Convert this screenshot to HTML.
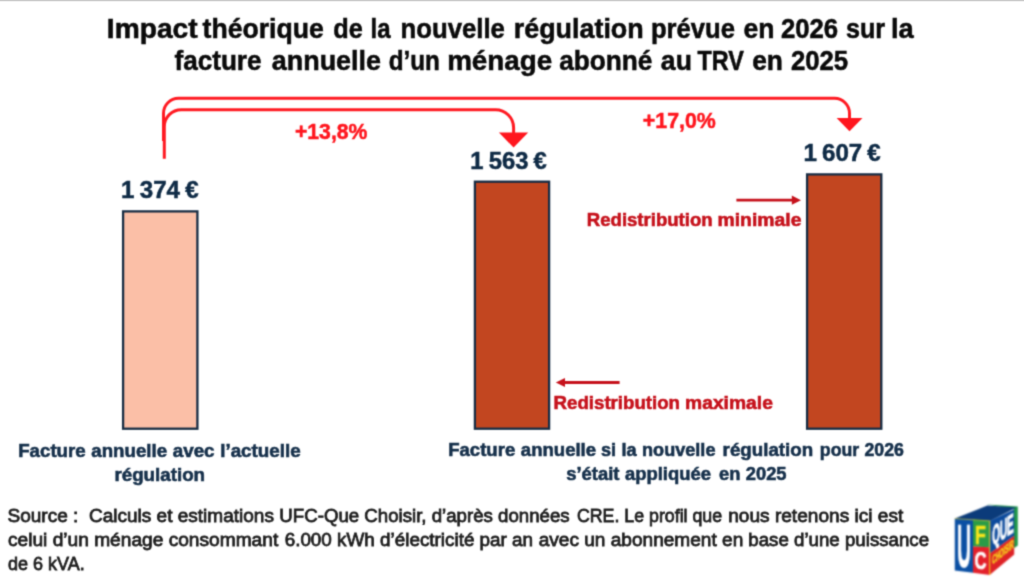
<!DOCTYPE html>
<html lang="fr">
<head>
<meta charset="utf-8">
<title>Impact théorique de la nouvelle régulation</title>
<style>
html,body{margin:0;padding:0;background:#fff;}
body{width:1024px;height:579px;overflow:hidden;position:relative;font-family:"Liberation Sans",sans-serif;}
svg{position:absolute;left:0;top:0;display:block;}
text{font-family:"Liberation Sans",sans-serif;}
.b{font-weight:700;}
.title{font-size:27.5px;fill:#0a0a0a;stroke:#0a0a0a;stroke-width:0.55px;word-spacing:-0.3px;}
.val{font-size:23.4px;fill:#0f2b46;stroke:#0f2b46;stroke-width:0.5px;word-spacing:-1.5px;}
.pct{font-size:21.4px;fill:#ff161e;stroke:#ff161e;stroke-width:0.5px;}
.red{font-size:18.9px;fill:#c6121c;stroke:#c6121c;stroke-width:0.6px;}
.lab{font-size:18.4px;fill:#16304b;stroke:#16304b;stroke-width:0.6px;word-spacing:0.4px;}
.src{font-size:18.8px;fill:#1e1e1e;stroke:#1e1e1e;stroke-width:0.8px;}
</style>
</head>
<body>
<svg width="1024" height="579" viewBox="0 0 1024 579">
  <defs><filter id="px" x="-10" y="-10" width="1044" height="599" filterUnits="userSpaceOnUse" color-interpolation-filters="sRGB"><feConvolveMatrix order="3" kernelMatrix="0.0324 0.1152 0.0324 0.1152 0.4096 0.1152 0.0324 0.1152 0.0324" divisor="1" edgeMode="duplicate" preserveAlpha="true"/></filter></defs>
  <g filter="url(#px)">
  <rect class="bg" x="-20" y="-20" width="1064" height="619" fill="#ffffff"/>

  <!-- arrows -->
  <g fill="none" stroke="#ff1a22" stroke-width="3" stroke-linecap="butt">
    <path d="M163.5 141 V113.3 A15 15 0 0 1 178.5 98.3 H834.5 A15 15 0 0 1 849.5 113.3 V120"/>
    <path d="M164.3 158.8 V126.7 A17 17 0 0 1 181.3 109.7 H495.6 A18 18 0 0 1 513.6 127.7 V134"/>
  </g>
  <polygon points="836.6,118 862.5,118 849.5,131.2" fill="#ff161e"/>
  <polygon points="498.9,132.4 528.2,132.4 513.6,147.6" fill="#ff161e"/>


  <!-- bars -->
  <rect x="123.1" y="211.4" width="74.3" height="217.3" fill="#fbbfa7" stroke="#182d44" stroke-width="2.3"/>
  <rect x="474.9" y="181.7" width="74.2" height="247" fill="#c24620" stroke="#182d44" stroke-width="2.3"/>
  <rect x="807.1" y="174.4" width="74.2" height="254.3" fill="#c24620" stroke="#182d44" stroke-width="2.3"/>


  <!-- redistribution labels -->
  <g stroke="#c6121c" stroke-width="2.8" fill="#c6121c">
    <line x1="736.4" y1="200.2" x2="794" y2="200.2"/>
    <polygon points="791.8,195.6 801,200.2 791.8,204.8" stroke="none"/>
    <line x1="619.6" y1="382.5" x2="563" y2="382.5"/>
    <polygon points="565,377.9 555.8,382.5 565,387.1" stroke="none"/>
  </g>

  <!-- texts: title, percentages, values, labels, source -->
  <text class="b title" y="37.6" xml:space="preserve"><tspan id="t1_0" x="106.86" textLength="98.23" lengthAdjust="spacingAndGlyphs">Impact </tspan><tspan id="t1_1" x="202.54" textLength="128.32" lengthAdjust="spacingAndGlyphs">théorique </tspan><tspan id="t1_2" x="333.22" textLength="36.23" lengthAdjust="spacingAndGlyphs">de </tspan><tspan id="t1_3" x="370.62" textLength="26.39" lengthAdjust="spacingAndGlyphs">la </tspan><tspan id="t1_4" x="400.59" textLength="111.19" lengthAdjust="spacingAndGlyphs">nouvelle </tspan><tspan id="t1_5" x="513.75" textLength="137.12" lengthAdjust="spacingAndGlyphs">régulation </tspan><tspan id="t1_6" x="650.95" textLength="90.84" lengthAdjust="spacingAndGlyphs">prévue </tspan><tspan id="t1_7" x="743.56" textLength="38.02" lengthAdjust="spacingAndGlyphs">en </tspan><tspan id="t1_8" x="780.90" textLength="64.12" lengthAdjust="spacingAndGlyphs">2026 </tspan><tspan id="t1_9" x="845.88" textLength="45.90" lengthAdjust="spacingAndGlyphs">sur </tspan><tspan id="t1_10" x="891.06" textLength="22.75" lengthAdjust="spacingAndGlyphs">la</tspan></text>
  <text class="b title" y="70.2" xml:space="preserve"><tspan id="t2_0" x="174.47" textLength="94.06" lengthAdjust="spacingAndGlyphs">facture </tspan><tspan id="t2_1" x="271.75" textLength="116.48" lengthAdjust="spacingAndGlyphs">annuelle </tspan><tspan id="t2_2" x="388.73" textLength="57.61" lengthAdjust="spacingAndGlyphs">d’un </tspan><tspan id="t2_3" x="447.17" textLength="112.47" lengthAdjust="spacingAndGlyphs">ménage </tspan><tspan id="t2_4" x="559.16" textLength="100.30" lengthAdjust="spacingAndGlyphs">abonné </tspan><tspan id="t2_5" x="660.86" textLength="38.10" lengthAdjust="spacingAndGlyphs">au </tspan><tspan id="t2_6" x="697.39" textLength="52.69" lengthAdjust="spacingAndGlyphs">TRV </tspan><tspan id="t2_7" x="752.17" textLength="37.74" lengthAdjust="spacingAndGlyphs">en </tspan><tspan id="t2_8" x="790.90" textLength="57.29" lengthAdjust="spacingAndGlyphs">2025</tspan></text>
  <text class="b pct" y="139.0" xml:space="preserve"><tspan id="p1_0" x="294.95" textLength="72.47" lengthAdjust="spacingAndGlyphs">+13,8%</tspan></text>
  <text class="b pct" y="128.0" xml:space="preserve"><tspan id="p2_0" x="642.82" textLength="73.00" lengthAdjust="spacingAndGlyphs">+17,0%</tspan></text>
  <text class="b val" y="198.0" xml:space="preserve"><tspan id="v1_0" x="121.14" textLength="77.50" lengthAdjust="spacingAndGlyphs">1 374 €</tspan></text>
  <text class="b val" y="168.6" xml:space="preserve"><tspan id="v2_0" x="470.35" textLength="76.36" lengthAdjust="spacingAndGlyphs">1 563 €</tspan></text>
  <text class="b val" y="160.5" xml:space="preserve"><tspan id="v3_0" x="803.40" textLength="77.40" lengthAdjust="spacingAndGlyphs">1 607 €</tspan></text>
  <text class="b red" y="225.9" xml:space="preserve"><tspan id="r1_0" x="586.82" textLength="130.99" lengthAdjust="spacingAndGlyphs">Redistribution </tspan><tspan id="r1_1" x="717.54" textLength="83.92" lengthAdjust="spacingAndGlyphs">minimale</tspan></text>
  <text class="b red" y="409.0" xml:space="preserve"><tspan id="r2_0" x="553.61" textLength="131.59" lengthAdjust="spacingAndGlyphs">Redistribution </tspan><tspan id="r2_1" x="685.05" textLength="87.81" lengthAdjust="spacingAndGlyphs">maximale</tspan></text>
  <text class="b lab" y="457.3" xml:space="preserve"><tspan id="l1a_0" x="18.20" textLength="154.50" lengthAdjust="spacingAndGlyphs">Facture annuelle </tspan><tspan id="l1a_1" x="172.76" textLength="127.93" lengthAdjust="spacingAndGlyphs">avec l’actuelle</tspan></text>
  <text class="b lab" y="481.1" xml:space="preserve"><tspan id="l1b_0" x="114.41" textLength="90.65" lengthAdjust="spacingAndGlyphs">régulation</tspan></text>
  <text class="b lab" y="456.0" xml:space="preserve"><tspan id="l2a_0" x="448.22" textLength="153.43" lengthAdjust="spacingAndGlyphs">Facture annuelle </tspan><tspan id="l2a_1" x="600.96" textLength="119.95" lengthAdjust="spacingAndGlyphs">si la nouvelle </tspan><tspan id="l2a_2" x="722.62" textLength="96.10" lengthAdjust="spacingAndGlyphs">régulation </tspan><tspan id="l2a_3" x="819.87" textLength="83.98" lengthAdjust="spacingAndGlyphs">pour 2026</tspan></text>
  <text class="b lab" y="480.0" xml:space="preserve"><tspan id="l2b_0" x="566.23" textLength="150.27" lengthAdjust="spacingAndGlyphs">s’était appliquée </tspan><tspan id="l2b_1" x="718.97" textLength="67.59" lengthAdjust="spacingAndGlyphs">en 2025</tspan></text>
  <text class="src" y="521.9" xml:space="preserve"><tspan id="s1_0" x="7.53" textLength="271.71" lengthAdjust="spacingAndGlyphs">Source :  Calculs et estimations </tspan><tspan id="s1_1" x="279.34" textLength="295.53" lengthAdjust="spacingAndGlyphs">UFC-Que Choisir, d’après données </tspan><tspan id="s1_2" x="576.94" textLength="150.15" lengthAdjust="spacingAndGlyphs">CRE. Le profil que </tspan><tspan id="s1_3" x="728.21" textLength="175.08" lengthAdjust="spacingAndGlyphs">nous retenons ici est</tspan></text>
  <text class="src" y="546.0" xml:space="preserve"><tspan id="s2_0" x="7.97" textLength="275.56" lengthAdjust="spacingAndGlyphs">celui d’un ménage consommant </tspan><tspan id="s2_1" x="284.66" textLength="253.67" lengthAdjust="spacingAndGlyphs">6.000 kWh d’électricité par an </tspan><tspan id="s2_2" x="538.66" textLength="209.88" lengthAdjust="spacingAndGlyphs">avec un abonnement en </tspan><tspan id="s2_3" x="748.33" textLength="180.77" lengthAdjust="spacingAndGlyphs">base d’une puissance</tspan></text>
  <text class="src" y="569.7" xml:space="preserve"><tspan id="s3_0" x="8.10" textLength="76.57" lengthAdjust="spacingAndGlyphs">de 6 kVA.</tspan></text>

  <!-- UFC Que Choisir logo -->
  <defs><filter id="soft" x="940" y="495" width="110" height="110" filterUnits="userSpaceOnUse" color-interpolation-filters="sRGB"><feFlood flood-color="#ffffff" result="bg"/><feMerge result="m"><feMergeNode in="bg"/><feMergeNode in="SourceGraphic"/></feMerge><feConvolveMatrix in="m" order="3" kernelMatrix="0.0484 0.1232 0.0484 0.1232 0.3136 0.1232 0.0484 0.1232 0.0484" divisor="1" edgeMode="duplicate" preserveAlpha="true"/></filter></defs>
  <g filter="url(#soft)">
    <polygon points="986.6,504.4 1017.8,506.4 1017.8,545.5 1013.6,548.5 1013.6,509" fill="#1f9648"/>
    <polygon points="954.8,518.5 987.4,505.6 1016.4,507.6 990,521" fill="#0b3b7a"/>
    <polygon points="954.8,518.5 973.2,519.6 973.2,572.8 954.8,570.4" fill="#0a4fa3"/>
    <polygon points="973,519.6 989.8,520.8 989.8,547.2 973,546.4" fill="#2a9b47"/>
    <polygon points="973,546.4 989.8,547.2 989.8,574.9 973,572.8" fill="#e3202a"/>
    <polygon points="989.6,520.9 1014.2,509.6 1014.2,535.7 989.6,553.6" fill="#0c4a9c"/>
    <polygon points="989.6,553.6 1014.2,535.7 1014.2,554.6 989.6,574.9" fill="#de2226"/>
    <line x1="989.7" y1="520.8" x2="989.7" y2="574.9" stroke="#f2d21c" stroke-width="1"/>
    <line x1="954.8" y1="518.6" x2="989.7" y2="520.9" stroke="#d8c62a" stroke-width="0.7"/>
    <text class="b" transform="translate(956.9 566.6) scale(0.75 2.38)" font-size="26" fill="#ffffff" stroke="#ffffff" stroke-width="0.3">U</text>
    <text class="b" transform="translate(975 543.7) scale(1.04 1.5)" font-size="17" fill="#fbe61a" stroke="#fbe61a" stroke-width="0.5">F</text>
    <text class="b" transform="translate(974.6 569.2) scale(0.98 1.45)" font-size="17" fill="#ffffff" stroke="#ffffff" stroke-width="0.5">C</text>
    <text class="b" transform="matrix(1 -0.64 0 2.4 992.2 545.8)" font-size="11.5" fill="#ffffff" stroke="#ffffff" stroke-width="0.45" textLength="21.4" lengthAdjust="spacingAndGlyphs">QUE</text>
    <text class="b" transform="matrix(1 -0.8 0 2.0 992.2 564.6)" font-size="6.2" fill="#f6d21e" stroke="#f6d21e" stroke-width="0.3" textLength="21.4" lengthAdjust="spacingAndGlyphs">CHOISIR</text>
  </g>
  </g>
</svg>
<div style="position:absolute;left:0;top:0;width:1024px;height:1px;background:#c9c9c9"></div>
<div style="position:absolute;left:0;top:1px;width:1024px;height:1px;background:#f1f1f1"></div>
</body>
</html>
